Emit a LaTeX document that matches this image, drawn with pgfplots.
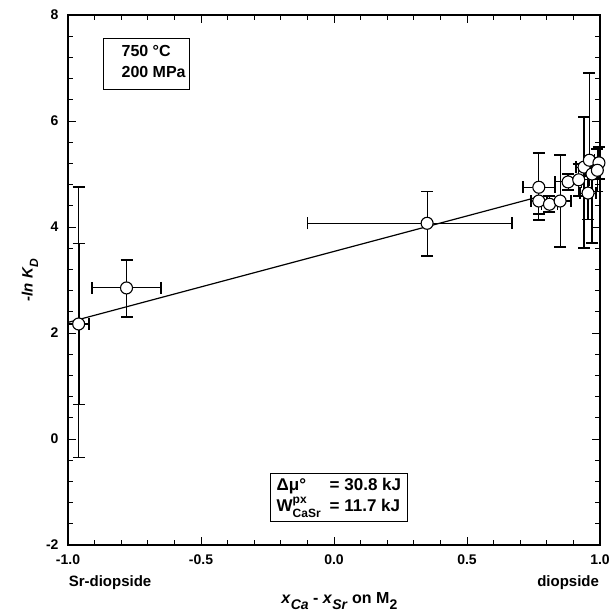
\documentclass[border=0pt]{standalone}
\usepackage{pgfplots}
\pgfplotsset{compat=1.18}
\usepackage{fontspec}
\setmainfont{Liberation Sans}
\pgfplotstableread{
x      y     xm    xp    ym    yp
-0.96  2.17  0.04  0.04  2.52  2.58
-0.78  2.85  0.13  0.13  0.55  0.53
0.35   4.07  0.45  0.32  0.62  0.60
0.77   4.75  0.06  0.06  0.62  0.65
0.77   4.49  0.03  0.03  0.25  0.25
0.81   4.43  0.03  0.03  0.15  0.15
0.85   4.49  0.04  0.04  0.87  0.87
0.88   4.85  0.05  0.05  0.15  0.15
0.92   4.89  0.04  0.04  0.30  0.30
0.94   5.13  0.03  0.03  1.53  0.94
0.96   5.26  0.02  0.02  0.30  1.64
0.996  5.21  0.00  0.00  0.30  0.30
0.97   5.00  0.03  0.03  1.30  0.30
0.955  4.64  0.03  0.03  0.50  0.50
0.99   5.07  0.01  0.01  0.40  0.40
}\datatable
\begin{document}
\begin{tikzpicture}
\path[use as bounding box] (0,0) rectangle (612pt,612pt);
\begin{axis}[
  at={(68pt,67pt)}, anchor=south west, scale only axis,
  width=532pt, height=530pt,
  xmin=-1, xmax=1, ymin=-2, ymax=8,
  xtick={-1,-0.5,0,0.5,1}, xticklabels={-1.0,-0.5,0.0,0.5,1.0},
  ytick={-2,0,2,4,6,8}, yticklabels={-2,0,2,4,6,8},
  minor x tick num=4, minor y tick num=4,
  tick align=inside, major tick length=8pt, minor tick length=5pt,
  tick style={line width=0.9pt, black},
  axis line style={line width=1.8pt},
  ticklabel style={font=\fontsize{14}{16}\selectfont\bfseries},
  xticklabel style={yshift=-6pt},
  yticklabel style={xshift=-6pt},
  clip=false,
]
\addplot[line width=1.2pt, black, no markers] coordinates {(-1,2.2) (0.77,4.57)};
\addplot[draw=none, black, error bars/.cd, y dir=both, y explicit,
  error bar style={line width=2pt}, error mark options={rotate=90, mark size=6pt, line width=1.5pt}]
  coordinates {(-0.96,2.17) +- (0,1.52)};
\addplot[only marks, black, mark=*, mark size=6pt,
  mark options={fill=white, draw=black, line width=1.1pt},
  error bars/.cd, x dir=both, x explicit, y dir=both, y explicit,
  error bar style={line width=1.1pt, black},
  error mark options={rotate=90, mark size=6pt, line width=1.6pt, black}]
  table[x=x, y=y, x error minus=xm, x error plus=xp, y error minus=ym, y error plus=yp] {\datatable};
\node[draw, line width=1pt, anchor=north west, inner xsep=0pt, inner ysep=6pt,
  font=\fontsize{16}{18}\selectfont\bfseries] at (rel axis cs:0.066,0.957)
  {\begin{tabular}{@{\hspace{18pt}}l@{\hspace{4pt}}}750 °C\\[3pt]200 MPa\end{tabular}};
\node[draw, line width=1pt, anchor=north west, inner xsep=6pt, inner ysep=4pt,
  font=\fontsize{17}{19}\selectfont\bfseries] at (rel axis cs:0.38,0.136)
  {\begin{tabular}{@{}l@{\hspace{9pt}}l@{}}
   Δμ° & = 30.8 kJ\\[1pt]
   W\rlap{\raisebox{0.8ex}{\fontsize{12}{13}\selectfont px}}\raisebox{-0.7ex}{\fontsize{12}{13}\selectfont CaSr} & = 11.7 kJ
   \end{tabular}};
\node[font=\fontsize{15}{17}\selectfont\bfseries] at ([yshift=-38pt]rel axis cs:0.079,0) {Sr-diopside};
\node[font=\fontsize{15}{17}\selectfont\bfseries] at ([yshift=-38pt]rel axis cs:0.94,0) {diopside};
\node[font=\fontsize{16}{18}\selectfont\bfseries] at ([yshift=-56pt]rel axis cs:0.51,0)
  {\textit{x}\raisebox{-0.7ex}{\fontsize{14}{15}\selectfont\textit{Ca}} - \textit{x}\raisebox{-0.7ex}{\fontsize{14}{15}\selectfont\textit{Sr}} on M\raisebox{-0.7ex}{\fontsize{14}{15}\selectfont 2}};
\node[rotate=90, font=\fontsize{15}{17}\selectfont\bfseries] at ([xshift=-38pt]rel axis cs:0,0.5)
  {\textit{-ln K}\raisebox{-0.7ex}{\fontsize{12}{13}\selectfont\textit{D}}};
\end{axis}
\end{tikzpicture}
\end{document}
